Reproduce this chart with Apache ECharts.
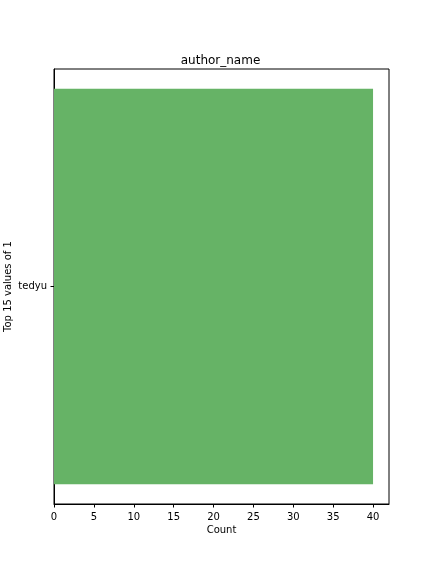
<!DOCTYPE html>
<html>
<head>
<meta charset="utf-8">
<script src="https://cdn.jsdelivr.net/npm/echarts@6/dist/echarts.min.js"></script>
<style>html,body{margin:0;padding:0;background:#fff;}#c{width:432px;height:576px;}</style>
</head>
<body>
<div id="c"></div>
<script>
var categories = ['tedyu'];
var counts = [40];
var xTicks = [0, 5, 10, 15, 20, 25, 30, 35, 40];
var titleText = 'author_name';
var xName = 'Count';
var yName = 'Top 15 values of 1';

var chart = echarts.init(document.getElementById('c'), null, {renderer: 'canvas'});
var font = 'DejaVu Sans';
chart.setOption({
  animation: false,
  backgroundColor: '#fff',
  title: {
    text: titleText, left: 215.5, top: 50, textAlign: 'center',
    textStyle: {fontFamily: font, fontSize: 12, fontWeight: 'normal', color: '#000'}
  },
  grid: {left: 54, right: 43, top: 69, bottom: 72, containLabel: false, outerBoundsMode: 'none',
    show: true, borderColor: '#000', borderWidth: 1, backgroundColor: 'transparent'},
  xAxis: {
    type: 'value', min: 0, max: 42, interval: 5,
    name: xName, nameLocation: 'middle', nameGap: 21, nameMoveOverlap: false,
    nameTextStyle: {fontFamily: font, fontSize: 10, color: '#000'},
    axisLine: {show: true, lineStyle: {color: '#000', width: 1}},
    axisTick: {show: true, length: 3.5, customValues: xTicks, lineStyle: {color: '#000'}},
    axisLabel: {fontFamily: font, fontSize: 10, color: '#000', margin: 8, customValues: xTicks},
    splitLine: {show: false}
  },
  yAxis: {
    type: 'category', data: categories,
    name: yName, nameLocation: 'middle', nameGap: 41, nameRotate: 90, nameMoveOverlap: false,
    nameTextStyle: {fontFamily: font, fontSize: 10, color: '#000'},
    axisLine: {show: true, lineStyle: {color: '#000', width: 1}},
    axisTick: {show: true, length: 3.5, alignWithLabel: true, lineStyle: {color: '#000'}},
    axisLabel: {fontFamily: font, fontSize: 10, color: '#000', margin: 7}
  },
  series: [{
    type: 'bar', data: counts, barWidth: '90.9%',
    itemStyle: {color: '#66b366'}
  }]
});
</script>
</body>
</html>
